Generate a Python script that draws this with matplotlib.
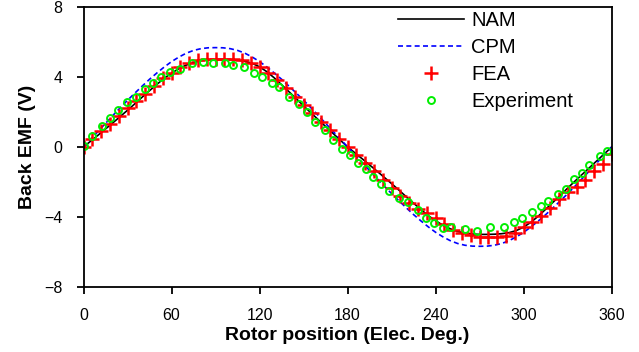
import matplotlib.pyplot as plt

# analytical model curves (NAM, CPM), sampled every 5 deg
ang = [0, 5, 10, 15, 20, 25, 30, 35, 40, 45, 50, 55, 60, 65, 70, 75, 80, 85, 90,
       95, 100, 105, 110, 115, 120, 125, 130, 135, 140, 145, 150, 155, 160, 165, 170, 175, 180,
       185, 190, 195, 200, 205, 210, 215, 220, 225, 230, 235, 240, 245, 250, 255, 260, 265, 270,
       275, 280, 285, 290, 295, 300, 305, 310, 315, 320, 325, 330, 335, 340, 345, 350, 355, 360]
nam = [0, 0.34, 0.68, 1.03, 1.38, 1.74, 2.1, 2.47, 2.85, 3.22, 3.58, 3.93, 4.22, 4.48, 4.68, 4.83, 4.93, 4.98, 5.0,
       5.0, 4.99, 4.96, 4.9, 4.78, 4.58, 4.3, 3.95, 3.56, 3.16, 2.76, 2.35, 1.95, 1.56, 1.17, 0.78, 0.39, 0,
       -0.34, -0.68, -1.03, -1.38, -1.74, -2.1, -2.47, -2.85, -3.22, -3.58, -3.93, -4.22, -4.48, -4.68, -4.83, -4.93, -4.98, -5.0,
       -5.0, -4.99, -4.96, -4.9, -4.78, -4.58, -4.3, -3.95, -3.56, -3.16, -2.76, -2.35, -1.95, -1.56, -1.17, -0.78, -0.39, 0]
cpm = [0, 0.45, 0.9, 1.35, 1.8, 2.24, 2.67, 3.08, 3.48, 3.87, 4.23, 4.57, 4.88, 5.14, 5.36, 5.52, 5.62, 5.67, 5.68,
       5.67, 5.62, 5.52, 5.36, 5.14, 4.88, 4.57, 4.23, 3.87, 3.48, 3.08, 2.67, 2.24, 1.8, 1.35, 0.9, 0.45, 0,
       -0.45, -0.9, -1.35, -1.8, -2.24, -2.67, -3.08, -3.48, -3.87, -4.23, -4.57, -4.88, -5.14, -5.36, -5.52, -5.62, -5.67, -5.68,
       -5.67, -5.62, -5.52, -5.36, -5.14, -4.88, -4.57, -4.23, -3.87, -3.48, -3.08, -2.67, -2.24, -1.8, -1.35, -0.9, -0.45, 0]

# FEA, every 6 deg
fea_ang = [0, 6, 12, 18, 24, 30, 36, 42, 48, 54, 60, 66, 72, 78, 84, 90, 96, 102, 108, 114, 120,
           126, 132, 138, 144, 150, 156, 162, 168, 174, 180, 186, 192, 198, 204, 210, 216, 222, 228, 234, 240,
           246, 252, 258, 264, 270, 276, 282, 288, 294, 300, 306, 312, 318, 324, 330, 336, 342, 348, 354, 360]
fea = [0, 0.48, 0.92, 1.32, 1.76, 2.2, 2.62, 3.05, 3.5, 3.92, 4.25, 4.55, 4.78, 4.95, 5.02, 5.05, 5.05, 5.03, 4.98, 4.82, 4.58,
       4.25, 3.82, 3.35, 2.88, 2.4, 1.92, 1.42, 0.95, 0.46, 0, -0.45, -0.92, -1.4, -1.88, -2.35, -2.8, -3.22, -3.55, -3.75, -4.05,
       -4.4, -4.72, -4.92, -5.05, -5.12, -5.12, -5.12, -5.08, -4.9, -4.6, -4.3, -3.95, -3.5, -3.0, -2.6, -2.3, -1.9, -1.4, -0.95, -0.4]

# measured back EMF
exp_ang = [0.3, 6.0, 12.8, 18.1, 23.3, 29.9, 35.8, 41.9, 47.2, 52.6, 59.0, 65.8, 74.0, 81.7, 88.5, 96.7, 101.7, 109.6,
           116.4, 121.7, 128.3, 133.5, 140.3, 146.7, 152.1, 157.8, 164.3, 169.8, 176.1, 181.5, 186.8, 192.4, 197.6,
           202.8, 208.5, 214.9, 221.4, 227.8, 233.5, 238.8, 245.3, 250.4, 259.8, 268.0, 277.1, 286.6, 293.5, 298.7,
           305.5, 311.7, 316.9, 323.7, 328.9, 334.4, 339.6, 344.8, 351.7, 356.7]
exp = [0.08, 0.65, 1.2, 1.66, 2.11, 2.55, 2.87, 3.31, 3.64, 3.98, 4.3, 4.46, 4.78, 4.87, 4.78, 4.78, 4.67, 4.55,
       4.21, 3.98, 3.67, 3.41, 2.87, 2.44, 2.02, 1.42, 0.97, 0.42, -0.12, -0.48, -0.91, -1.26, -1.7,
       -2.13, -2.5, -2.93, -3.12, -3.6, -4.05, -4.36, -4.61, -4.59, -4.7, -4.8, -4.59, -4.59, -4.27, -4.04,
       -3.7, -3.37, -3.07, -2.7, -2.42, -1.85, -1.47, -1.03, -0.5, -0.24]

xticks = [0, 60, 120, 180, 240, 300, 360]
yticks = [-8, -4, 0, 4, 8]

plt.rcParams['font.family'] = ['Liberation Sans', 'DejaVu Sans']

fig = plt.figure(figsize=(6.39, 3.52), dpi=100)
ax = fig.add_axes([0.1307, 0.185, 0.8266, 0.795])

ax.plot(ang, nam, color='black', lw=1.2, label='NAM')
ax.plot(ang, cpm, color='#0000ff', lw=1.2, ls=(0, (3, 2)), label='CPM')
ax.plot(fea_ang, fea, ls='none', marker='+', color='#ff0000', ms=10, mew=1.8, label='FEA')
ax.plot(exp_ang, exp, ls='none', marker='o', mfc='none', mec='#00ee00', ms=5, mew=1.4, label='Experiment')

ax.set_xlim(0, 360)
ax.set_ylim(-8, 8)
ax.set_xticks(xticks)
ax.set_yticks(yticks)
ax.set_xticklabels([str(t) for t in xticks], family=['Liberation Sans Narrow', 'Liberation Sans'], fontsize=11.5)
ax.set_yticklabels(['\u22128', '\u22124', '0', '4', '8'], family=['Liberation Sans Narrow', 'Liberation Sans'], fontsize=11.5)
ax.tick_params(direction='out', length=5, width=1.3, pad=10, top=False, right=False)
for s in ax.spines.values():
    s.set_linewidth(1.3)

ax.set_xlabel('Rotor position (Elec. Deg.)', fontsize=14, fontweight='bold', labelpad=3)
ax.set_ylabel('Back EMF (V)', fontsize=14, fontweight='bold', labelpad=6)

ax.legend(loc='upper left', bbox_to_anchor=(0.595, 0.985), frameon=False, fontsize=14.5,
          handlelength=3.3, handletextpad=0.35, labelspacing=0.4, borderpad=0, borderaxespad=0)

fig.savefig('out.png', dpi=100)
